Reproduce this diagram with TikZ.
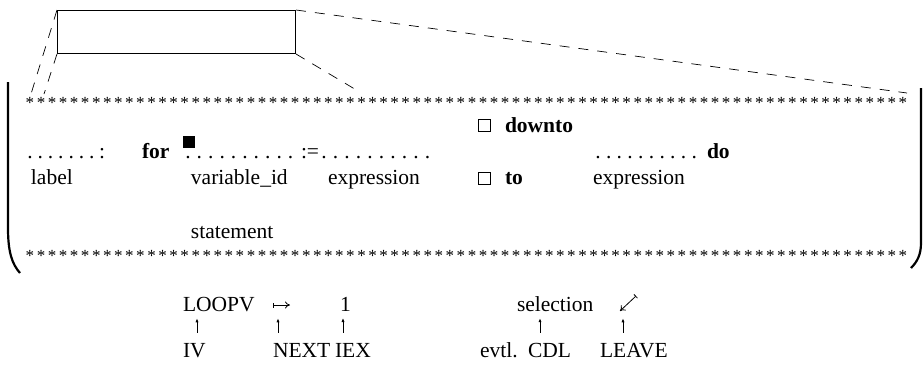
\documentclass[tikz,border=0pt]{standalone}
\usepackage{fontspec}
\setmainfont{Liberation Serif}
\usetikzlibrary{arrows.meta}
\begin{document}
\begin{tikzpicture}[x=0.5pt,y=-0.5pt,
  txt/.style={anchor=base west, inner sep=0pt, outer sep=0pt, font=\fontsize{10.75}{13}\selectfont},
  kw/.style={txt, font=\fontsize{10.75}{13}\selectfont\bfseries},
  ast/.style={anchor=base, inner sep=0pt, font=\fontsize{8.5}{10}\selectfont},
  dot/.style={anchor=base, inner sep=0pt, font=\fontsize{10.75}{13}\selectfont},
  zoomline/.style={line width=0.35pt, dash pattern=on 5pt off 4.5pt},
  frame/.style={line width=0.5pt},
  brace/.style={line width=1.1pt},
  choice/.style={draw, line width=0.4pt, minimum size=6pt, inner sep=0pt, anchor=north west},
  cursorbox/.style={fill, minimum size=6pt, inner sep=0pt, anchor=north west},
  ptr/.style={line width=0.4pt, -{Latex[length=2pt,width=1.6pt]}, shorten <=5pt, shorten >=3.5pt},
  mapto/.style={line width=0.4pt, {Bar[width=2.5pt]}-{To[length=2.5pt,width=3.5pt]}}]
\useasboundingbox (0,0) rectangle (923,370);

% the window that is enlarged below
\node[draw, frame, anchor=north west, minimum width=119pt, minimum height=21.5pt, inner sep=0pt] (win) at (57,10) {};
\coordinate (fa) at (31,94);
\coordinate (fb) at (44,94);
\coordinate (fc) at (907,93);
\coordinate (fd) at (358,91);
\draw[zoomline] (win.north west) -- (fa);
\draw[zoomline] (win.south west) -- (fb);
\draw[zoomline] (win.north east) -- (fc);
\draw[zoomline] (win.south east) -- (fd);

% enlarged frame: round brackets left and right
\coordinate (lt) at (8,82);
\coordinate (lb) at (20,273);
\coordinate (rt) at (921,88);
\coordinate (rb) at (911,268);
\draw[brace] (lt) -- (8,228) .. controls (8,252) and (12,264) .. (lb);
\draw[brace] (rt) -- (921,243) .. controls (921,255) and (917,262) .. (rb);

% rows of asterisks
\foreach \i in {0,...,79} {
  \node[ast] (ta\i) at ({30+\i*11.05},108) {*};
  \node[ast] (ba\i) at ({30+\i*11.05},261) {*};
}

% choice: downto
\node[choice] (bdown) at (478,119) {};
\node[kw] (downto) at (505,132) {downto};

% first line of the for statement
\foreach \i in {0,...,6} \node[dot] (ld\i) at ({30+\i*10.3},158) {.};
\node[dot] (lcolon) at (102,158) {:};
\node[kw] (for) at (142,158) {for};
\node[cursorbox] (cursor) at (183,136) {};
\foreach \i in {0,...,9} \node[dot] (vd\i) at ({188+\i*11.4},158) {.};
\node[txt] (assign) at (301,158) {:=};
\foreach \i in {0,...,9} \node[dot] (ed\i) at ({324+\i*11.5},158) {.};
\foreach \i in {0,...,9} \node[dot] (xd\i) at ({598+\i*10.7},158) {.};
\node[kw] (do) at (707,158) {do};

% names of the fields
\node[txt] (label) at (31,184) {label};
\node[txt] (varid) at (191,184) {variable\_id};
\node[txt] (expr1) at (328,184) {expression};
\node[choice] (bto) at (478,172) {};
\node[kw] (to) at (505,184) {to};
\node[txt] (expr2) at (593,184) {expression};
\node[txt] (stmt) at (191,238) {statement};

% instructions and their operands
\node[txt] (loopv) at (183,311) {LOOPV};
\coordinate (ms) at (273,305);
\coordinate (me) at (290,305);
\draw[mapto] (ms) -- (me);
\node[txt] (one) at (340,311) {1};
\node[txt] (sel) at (517,311) {selection};
\coordinate (ls) at (636,296);
\coordinate (le) at (620,311);
\draw[mapto] (ls) -- (le);

\node[txt] (iv) at (183,357) {IV};
\node[txt] (next) at (273,357) {NEXT};
\node[txt] (iex) at (335,357) {IEX};
\node[txt] (evtl) at (480,357) {evtl.};
\node[txt] (cdl) at (528,357) {CDL};
\node[txt] (leave) at (600,357) {LEAVE};

\coordinate (p1) at (197,0);
\coordinate (p2) at (278,0);
\coordinate (p3) at (343,0);
\coordinate (p4) at (540,0);
\coordinate (p5) at (623,0);
\draw[ptr] (iv.north -| p1) -- (loopv.south -| p1);
\draw[ptr] (next.north -| p2) -- (loopv.south -| p2);
\draw[ptr] (iex.north -| p3) -- (one.south -| p3);
\draw[ptr] (cdl.north -| p4) -- (sel.south -| p4);
\draw[ptr] (leave.north -| p5) -- (loopv.south -| p5);
\end{tikzpicture}
\end{document}
